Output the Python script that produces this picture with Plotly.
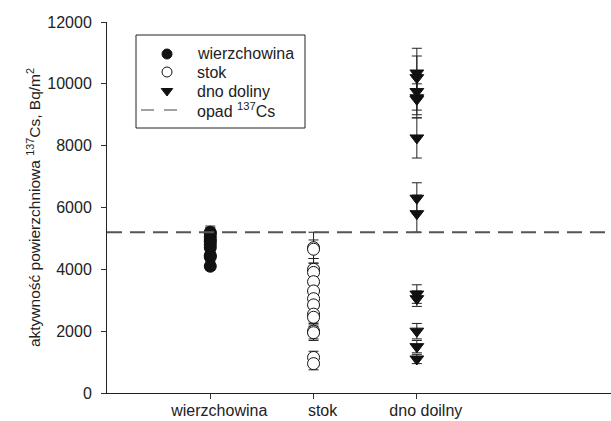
import plotly.graph_objects as go

categories = ["wierzchowina", "stok", "dno doilny"]
cat_pos = [1, 2, 3]

wierz_vals = [5200, 5150, 5050, 4950, 4900, 4800, 4700, 4450, 4400, 4100]
wierz_err = [200, 200, 180, 200, 150, 200, 180, 150, 150, 120]

stok_vals = [4700, 4650, 4000, 3900, 3600, 3300, 3050, 2850, 2550, 2450, 2000, 1950, 1150, 950]
stok_err = [500, 300, 350, 300, 300, 250, 300, 250, 250, 300, 250, 250, 200, 200]

dno_vals = [10350, 10200, 9750, 9550, 9500, 8250, 6300, 5800, 3200, 3050, 2000, 1500, 1100]
dno_err = [800, 700, 600, 650, 500, 650, 500, 600, 300, 250, 250, 200, 150]

opad = 5200
x_max = 4.88
y_ticks = [0, 2000, 4000, 6000, 8000, 10000, 12000]

legend_names = ["wierzchowina", "stok", "dno doliny", "opad <sup>137</sup>Cs"]

FONT = "Liberation Sans, Arial, sans-serif"
TXT = "#222"

# plot area in pixels (for legend placement)
L, R, T, B = 107, 611, 22, 393
def px(x):
    return (x - L) / (R - L)
def py(y):
    return (B - y) / (B - T)

fig = go.Figure()

def errbar(arr):
    return dict(type="data", array=arr, visible=True, color="#222", thickness=1, width=5)

styles = [
    dict(symbol="circle", size=12, color="#111", line=dict(color="#111", width=1)),
    dict(symbol="circle", size=12, color="white", line=dict(color="#111", width=1)),
    dict(symbol="triangle-down", size=12, color="#111", line=dict(color="#111", width=1)),
]
series = [wierz_vals, stok_vals, dno_vals]
errs = [wierz_err, stok_err, dno_err]

for i in range(3):
    fig.add_trace(go.Scatter(
        x=[cat_pos[i]] * len(series[i]), y=series[i], mode="markers",
        name=legend_names[i], marker=styles[i], error_y=errbar(errs[i]),
        showlegend=False))

fig.add_trace(go.Scatter(
    x=[0, x_max], y=[opad, opad], mode="lines", name=legend_names[3],
    line=dict(color="#555", width=2, dash="15px,8px"), showlegend=False))

# custom legend (box, symbols, labels) on an overlay paper-like axis
row_y = [54, 72, 91, 110]
sym_x = 167
for i in range(3):
    st = dict(symbol=styles[i]["symbol"], size=10, color=styles[i]["color"],
              line=styles[i]["line"])
    fig.add_trace(go.Scatter(
        x=[px(sym_x)], y=[py(row_y[i])], xaxis="x2", yaxis="y2",
        mode="markers", marker=st, showlegend=False, hoverinfo="skip"))
fig.add_trace(go.Scatter(
    x=[px(141), px(181)], y=[py(row_y[3]), py(row_y[3])], xaxis="x2", yaxis="y2",
    mode="lines", line=dict(color="#444", width=1.2, dash="13px,10px"),
    showlegend=False, hoverinfo="skip"))

annotations = []
for i, name in enumerate(legend_names):
    annotations.append(dict(
        x=px(195), y=py(row_y[i]), xref="paper", yref="paper",
        text=name, showarrow=False, xanchor="left", yanchor="middle",
        font=dict(family=FONT, size=16, color=TXT)))

fig.update_layout(
    width=611, height=421,
    margin=dict(l=L, r=611 - R, t=T, b=421 - B),
    paper_bgcolor="white", plot_bgcolor="white",
    font=dict(family=FONT, size=16, color=TXT),
    showlegend=False,
    annotations=annotations,
    shapes=[dict(type="rect", xref="paper", yref="paper",
                 x0=px(136), x1=px(305), y0=py(128), y1=py(35),
                 line=dict(color="#222", width=1), fillcolor="rgba(0,0,0,0)")],
    xaxis=dict(
        range=[0, x_max], tickmode="array", tickvals=cat_pos, ticktext=categories,
        ticks="outside", ticklen=5, tickcolor="#333", showline=True, linecolor="#222",
        linewidth=1, showgrid=False, zeroline=False, ticklabelshift=9,
        ticklabelstandoff=-2,
        tickfont=dict(family=FONT, size=16, color=TXT)),
    yaxis=dict(
        range=[0, 12000], tickmode="array", tickvals=y_ticks,
        ticktext=[str(v) for v in y_ticks],
        ticks="outside", ticklen=5, tickcolor="#333", showline=True, linecolor="#222",
        linewidth=1, showgrid=False, zeroline=False, ticklabelstandoff=6,
        tickfont=dict(family=FONT, size=16, color=TXT),
        title=dict(text="aktywność powierzchniowa <sup>137</sup>Cs, Bq/m<sup>2</sup>",
                   font=dict(family=FONT, size=15.5, color=TXT), standoff=2)),
    xaxis2=dict(domain=[0, 1], range=[0, 1], overlaying="x", visible=False,
                fixedrange=True),
    yaxis2=dict(domain=[0, 1], range=[0, 1], overlaying="y", anchor="x2",
                visible=False, fixedrange=True),
)

fig.write_html("out.html", config={"displayModeBar": False},
               post_script="document.body.style.margin='0';")
